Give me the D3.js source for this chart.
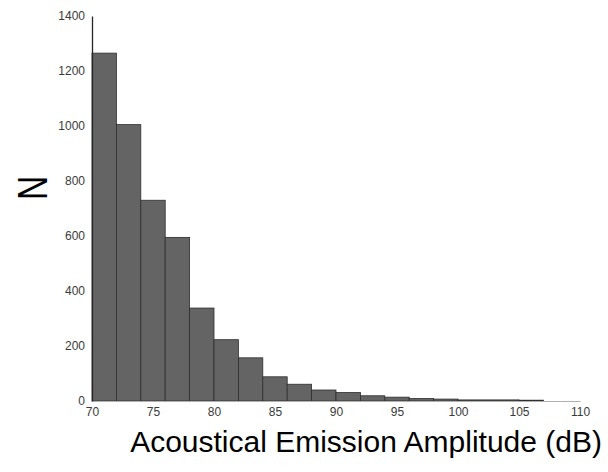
<!DOCTYPE html>
<html>
<head>
<meta charset="utf-8">
<script src="https://cdn.jsdelivr.net/npm/d3@7"></script>
<style>
  body { margin: 0; background: #fff; }
  text { font-family: "Liberation Sans", Arial, sans-serif; }
</style>
</head>
<body>
<div id="my_dataviz"></div>
<script>
// bin edges (dB) and counts
var binStart = [70, 72, 74, 76, 78, 80, 82, 84, 86, 88, 90, 92, 94, 96, 98, 100, 105];
var binEnd   = [72, 74, 76, 78, 80, 82, 84, 86, 88, 90, 92, 94, 96, 98, 100, 105, 107];
var counts   = [1265, 1005, 730, 595, 338, 223, 157, 88, 61, 40, 31, 19, 14, 9, 7, 4, 3];
var xTicks = [70, 75, 80, 85, 90, 95, 100, 105, 110];
var yTicks = [0, 200, 400, 600, 800, 1000, 1200, 1400];

var dataset = counts.map(function(c, i) {
    return {x0: binStart[i], x1: binEnd[i], n: c};
});

var margin = {top: 16, right: 28, bottom: 71, left: 92};
var width = 608 - margin.left - margin.right;
var height = 472 - margin.top - margin.bottom;

var svg = d3.select("#my_dataviz")
    .append("svg")
    .attr("width", 608)
    .attr("height", 472)
    .append("g")
    .attr("transform", "translate(" + margin.left + "," + margin.top + ")");

var xScale = d3.scaleLinear().domain([70, 110]).range([0, width]);
var yScale = d3.scaleLinear().domain([0, 1400]).range([height, 0]);

// bars
svg.selectAll("rect.bar")
    .data(dataset)
    .enter()
    .append("rect")
    .attr("class", "bar")
    .attr("x", function(d) { return xScale(d.x0); })
    .attr("y", function(d) { return yScale(d.n); })
    .attr("width", function(d) { return xScale(d.x1) - xScale(d.x0); })
    .attr("height", function(d) { return height - yScale(d.n); })
    .attr("fill", "#646464")
    .attr("stroke", "#2e2e2e")
    .attr("stroke-width", 0.8);

// X axis
var xAxis = svg.append("g")
    .attr("transform", "translate(0," + height + ")")
    .call(d3.axisBottom(xScale).tickValues(xTicks).tickFormat(d3.format("d")).tickSize(0).tickPadding(6));
xAxis.select(".domain").attr("stroke", "#b0b0b0");
xAxis.selectAll("text").attr("font-size", 12).attr("fill", "#3a3a3a")
    .style("font-family", "'Liberation Sans', Arial, sans-serif");

// Y axis
var yAxis = svg.append("g")
    .call(d3.axisLeft(yScale).tickValues(yTicks).tickFormat(d3.format("d")).tickSize(0).tickPadding(7));
yAxis.select(".domain").attr("stroke", "#262626").attr("stroke-width", 1.3);
yAxis.selectAll("text").attr("font-size", 12).attr("fill", "#3a3a3a")
    .style("font-family", "'Liberation Sans', Arial, sans-serif");

// labels
svg.append("text")
    .attr("x", 602 - margin.left)
    .attr("y", 452 - margin.top)
    .attr("text-anchor", "end")
    .attr("font-size", 30)
    .attr("fill", "#000")
    .text("Acoustical Emission Amplitude (dB)");

svg.append("text")
    .attr("transform", "translate(" + (46.5 - margin.left) + "," + (188 - margin.top) + ") rotate(-90) scale(0.78,1)")
    .attr("text-anchor", "middle")
    .attr("font-size", 43)
    .attr("fill", "#000")
    .text("N");
</script>
</body>
</html>
